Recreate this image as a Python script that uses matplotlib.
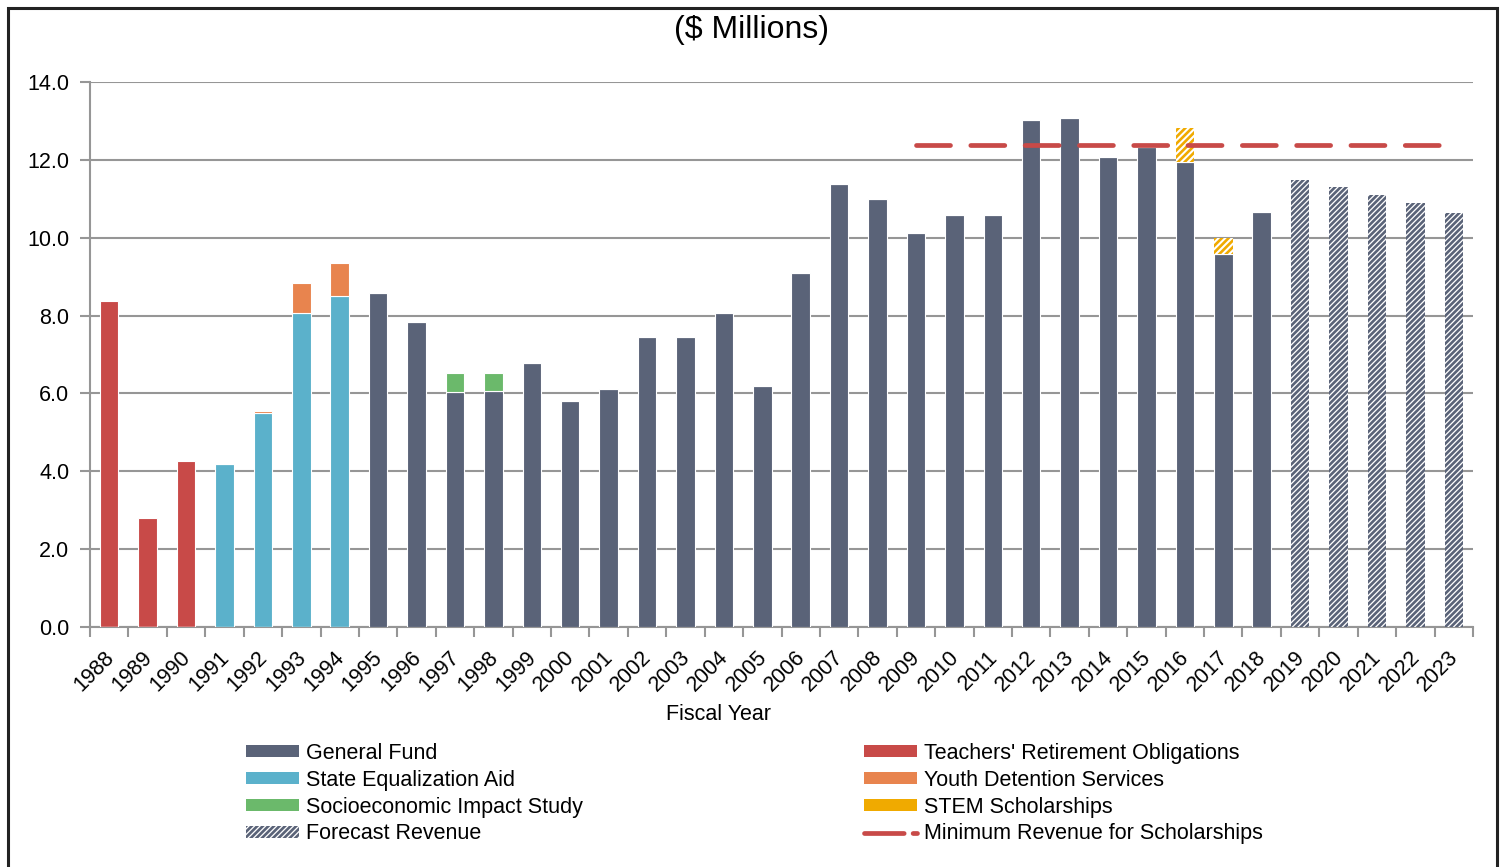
import matplotlib
matplotlib.use("Agg")
import matplotlib.pyplot as plt
from matplotlib.patches import Patch, Rectangle
from matplotlib.lines import Line2D
from matplotlib.transforms import ScaledTranslation
import numpy as np

plt.rcParams['font.family'] = ['Liberation Sans', 'DejaVu Sans']
plt.rcParams['hatch.linewidth'] = 1.9

years = [str(y) for y in range(1988, 2024)]

general_fund = [0, 0, 0, 0, 0, 0, 0, 8.57, 7.83, 6.03, 6.07, 6.78, 5.81, 6.11,
                7.45, 7.45, 8.07, 6.19, 9.09, 11.38, 10.99, 10.12, 10.58, 10.58,
                13.02, 13.07, 12.07, 12.34, 11.95, 9.58, 10.66, 0, 0, 0, 0, 0]
teachers = [8.37, 2.80, 4.26] + [0] * 33
state_eq = [0, 0, 0, 4.19, 5.49, 8.06, 8.50] + [0] * 29
youth = [0, 0, 0, 0, 0.07, 0.77, 0.84] + [0] * 29
socio = [0] * 9 + [0.49, 0.45] + [0] * 25
stem = [0] * 28 + [0.86, 0.40] + [0] * 6
forecast = [0] * 31 + [11.48, 11.30, 11.10, 10.89, 10.63]
min_revenue_years = years[21:]
min_revenue = [12.38] * len(min_revenue_years)

c_gf = '#5A6378'
c_tr = '#C84A48'
c_se = '#5BB1CB'
c_yd = '#E8844E'
c_si = '#6BB96B'
c_stem = '#F0AA00'
c_min = '#C84A48'

FS = 15.5

fig = plt.figure(figsize=(15.01, 8.67), dpi=100)
ax = fig.add_axes([90 / 1501, 1 - 627 / 867, (1473 - 90) / 1501, (627 - 82) / 867])

x = np.arange(len(years))
w = 0.48
ekw = dict(edgecolor='white', linewidth=0.8)
ax.bar(x, teachers, w, color=c_tr, **ekw, zorder=3)
ax.bar(x, state_eq, w, color=c_se, **ekw, zorder=3)
base = np.array(state_eq)
ax.bar(x, youth, w, bottom=base, color=c_yd, **ekw, zorder=3)
ax.bar(x, general_fund, w, color=c_gf, **ekw, zorder=3)
gf = np.array(general_fund)
ax.bar(x, socio, w, bottom=gf, color=c_si, **ekw, zorder=3)
ax.bar(x, stem, w, bottom=gf, color='white', edgecolor=c_stem, linewidth=0,
       hatch='/////', zorder=3)
ax.bar(x, forecast, w, color='white', edgecolor=c_gf, linewidth=0,
       hatch='//////', zorder=3)

idx0 = years.index(min_revenue_years[0])
xm = np.arange(idx0, idx0 + len(min_revenue_years))
ln, = ax.plot(xm, min_revenue, color=c_min, linewidth=3.4,
              solid_capstyle='round', dash_capstyle='round', zorder=4)
ln.set_dashes((7.2, 4.3))

ax.set_xlim(-0.5, len(years) - 0.5)
ax.set_ylim(0, 14)
ax.set_yticks(np.arange(0, 14.01, 2))
ax.set_yticklabels([f"{v:.1f}" for v in np.arange(0, 14.01, 2)], fontsize=FS)
ax.yaxis.grid(True, color='#969696', linewidth=1.5, zorder=0)
ax.set_axisbelow(True)

ax.set_xticks(x)
ax.set_xticklabels(years, rotation=45, ha='right', rotation_mode='anchor', fontsize=FS)
ax.tick_params(axis='x', length=0, pad=12)
off = ScaledTranslation(-6 / 100, -3 / 100, fig.dpi_scale_trans)
for lab in ax.get_xticklabels():
    lab.set_transform(lab.get_transform() + off)
ax.set_xticks(np.arange(-0.5, len(years), 1), minor=True)
ax.tick_params(axis='x', which='minor', length=7, width=1.5, color='#969696')
ax.tick_params(axis='y', length=7, width=1.5, color='#969696', pad=8)

for s in ['top', 'right']:
    ax.spines[s].set_visible(False)
for s in ['left', 'bottom']:
    ax.spines[s].set_color('#969696')
    ax.spines[s].set_linewidth(1.5)

fig.text(718 / 1501, 1 - 715 / 867, 'Fiscal Year', fontsize=FS, ha='center', va='center')
fig.text(751 / 1501, 1 - 30 / 867, '($ Millions)', fontsize=23, ha='center', va='center')

h1 = [Patch(facecolor=c_gf, edgecolor='none'),
      Patch(facecolor=c_se, edgecolor='none'),
      Patch(facecolor=c_si, edgecolor='none'),
      Patch(facecolor='white', edgecolor=c_gf, linewidth=0, hatch='//////')]
l1 = ['General Fund', 'State Equalization Aid', 'Socioeconomic Impact Study', 'Forecast Revenue']
h2 = [Patch(facecolor=c_tr, edgecolor='none'),
      Patch(facecolor=c_yd, edgecolor='none'),
      Patch(facecolor=c_stem, edgecolor='none'),
      Line2D([], [], color=c_min, linewidth=3.4, dashes=(8.4, 1.9), dash_capstyle='round')]
l2 = ["Teachers' Retirement Obligations", 'Youth Detention Services', 'STEM Scholarships',
      'Minimum Revenue for Scholarships']

lkw = dict(frameon=False, fontsize=FS, handlelength=2.45, handleheight=0.5,
           labelspacing=0.27, handletextpad=0.35, borderpad=0, borderaxespad=0)
leg1 = fig.legend(h1, l1, loc='upper left', bbox_to_anchor=(246 / 1501, 1 - 743 / 867), **lkw)
leg2 = fig.legend(h2, l2, loc='upper left', bbox_to_anchor=(864 / 1501, 1 - 743 / 867), **lkw)

fig.patches.append(Rectangle((8 / 1501, -0.05), (1497 - 8) / 1501, 1 - 8 / 867 + 0.05,
                             transform=fig.transFigure, fill=False,
                             edgecolor='#222222', linewidth=2.2))

fig.savefig('out.png', dpi=100)
